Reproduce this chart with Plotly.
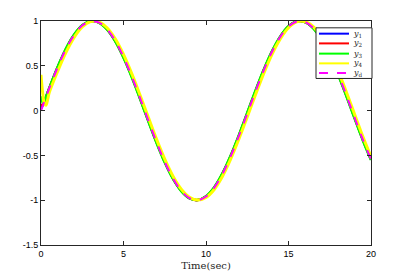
import plotly.graph_objects as go

t = [0, 0.1, 0.2, 0.3, 0.4, 0.5, 1.0, 1.5, 2.0, 2.5, 3.0, 3.5, 4.0, 4.5, 5.0, 5.5, 6.0,
     6.5, 7.0, 7.5, 8.0, 8.5, 9.0, 9.5, 10.0, 10.5, 11.0, 11.5, 12.0, 12.5, 13.0,
     13.5, 14.0, 14.5, 15.0, 15.5, 16.0, 16.5, 17.0, 17.5, 18.0, 18.5, 19.0, 19.5, 20.0]

yd = [0.0, 0.05, 0.10, 0.15, 0.199, 0.247, 0.479, 0.682, 0.841, 0.949, 0.997, 0.984,
      0.909, 0.778, 0.598, 0.382, 0.141, -0.108, -0.351, -0.572, -0.757, -0.895,
      -0.978, -0.999, -0.959, -0.860, -0.706, -0.508, -0.279, -0.033, 0.215, 0.450,
      0.657, 0.823, 0.938, 0.995, 0.989, 0.923, 0.798, 0.624, 0.412, 0.174, -0.075,
      -0.321, -0.544]

y1 = [0.02, 0.06, 0.10, 0.15, 0.199, 0.247, 0.479, 0.682, 0.841, 0.949, 0.997, 0.984,
      0.909, 0.778, 0.598, 0.382, 0.141, -0.108, -0.351, -0.572, -0.757, -0.895,
      -0.978, -0.999, -0.959, -0.860, -0.706, -0.508, -0.279, -0.033, 0.215, 0.450,
      0.657, 0.823, 0.938, 0.995, 0.989, 0.923, 0.798, 0.624, 0.412, 0.174, -0.075,
      -0.321, -0.544]

y2 = [0.05, 0.07, 0.10, 0.15, 0.199, 0.247, 0.479, 0.682, 0.841, 0.949, 0.997, 0.984,
      0.909, 0.778, 0.598, 0.382, 0.141, -0.108, -0.351, -0.572, -0.757, -0.895,
      -0.978, -0.999, -0.959, -0.860, -0.706, -0.508, -0.279, -0.033, 0.215, 0.450,
      0.657, 0.823, 0.938, 0.995, 0.989, 0.923, 0.798, 0.624, 0.412, 0.174, -0.075,
      -0.321, -0.544]

y3 = [0.16, 0.09, 0.10, 0.15, 0.20, 0.25, 0.485, 0.688, 0.846, 0.952, 0.998, 0.982,
      0.905, 0.772, 0.590, 0.373, 0.131, -0.118, -0.360, -0.580, -0.763, -0.899,
      -0.980, -0.998, -0.955, -0.854, -0.698, -0.499, -0.269, -0.023, 0.225, 0.459,
      0.664, 0.828, 0.941, 0.996, 0.987, 0.918, 0.791, 0.615, 0.402, 0.164, -0.085,
      -0.330, -0.552]

y4 = [0.40, 0.20, 0.08, 0.06, 0.12, 0.20, 0.435, 0.645, 0.815, 0.934, 0.993, 0.991,
      0.925, 0.802, 0.627, 0.413, 0.175, -0.073, -0.318, -0.542, -0.732, -0.876,
      -0.967, -0.999, -0.969, -0.880, -0.733, -0.540, -0.314, -0.070, 0.178, 0.416,
      0.628, 0.800, 0.925, 0.990, 0.994, 0.938, 0.821, 0.653, 0.446, 0.211, -0.038,
      -0.286, -0.514]

series_names = ["<i>y</i><sub>1</sub>", "<i>y</i><sub>2</sub>", "<i>y</i><sub>3</sub>",
                "<i>y</i><sub>4</sub>", "<i>y</i><sub>d</sub>"]
series_values = [y1, y2, y3, y4, yd]
colors = ["#0000ff", "#ff0000", "#00ff00", "#ffff00", "#ff00ff"]
widths = [2.5, 2.5, 2.5, 3, 2]
dashes = ["solid", "solid", "solid", "solid", "dash"]

fig = go.Figure()
for name, ys, color, w, dash in zip(series_names, series_values, colors, widths, dashes):
    fig.add_trace(go.Scatter(x=t, y=ys, mode="lines", name=name, showlegend=False,
                             line=dict(color=color, width=w, dash=dash, shape="spline")))

axis_common = dict(showline=True, linecolor="#262626", linewidth=1, mirror="ticks",
                   ticks="inside", ticklen=4, tickcolor="#262626", showgrid=False,
                   zeroline=False,
                   tickfont=dict(family="Liberation Sans, Arial", size=9, color="#000000"))

fig.update_xaxes(range=[0, 20], tickvals=[0, 5, 10, 15, 20],
                 title=dict(text="Time(sec)", standoff=4,
                            font=dict(family="DejaVu Serif, serif", size=10, color="#262626")),
                 **axis_common)
fig.update_yaxes(range=[-1.5, 1], tickvals=[-1.5, -1, -0.5, 0, 0.5, 1],
                 ticktext=["-1.5", "-1", "-0.5", "0", "0.5", "1"], **axis_common)

# Manual compact legend (paper coordinates derived from plot-area pixel geometry)
PX0, PX1, PY0, PY1 = 41, 371, 16, 246
def px(x):
    return (x - PX0) / (PX1 - PX0)
def py(y):
    return (PY1 - y) / (PY1 - PY0)

shapes = [dict(type="rect", xref="paper", yref="paper",
               x0=px(316), x1=px(372), y0=py(75), y1=py(23),
               line=dict(color="#262626", width=1), fillcolor="white", layer="above")]
annotations = []
row_y = [29, 39, 49.5, 59.5, 69.5]
for i, (name, color, dash) in enumerate(zip(series_names, colors, dashes)):
    shapes.append(dict(type="line", xref="paper", yref="paper",
                       x0=px(319), x1=px(349), y0=py(row_y[i]), y1=py(row_y[i]),
                       line=dict(color=color, width=2, dash=dash), layer="above"))
    annotations.append(dict(xref="paper", yref="paper", x=px(351), y=py(row_y[i]),
                            text=name, showarrow=False, xanchor="left", yanchor="middle",
                            font=dict(family="DejaVu Serif, serif", size=8, color="#262626")))

fig.update_layout(
    width=398, height=270,
    margin=dict(l=33, r=35, t=8, b=32),
    plot_bgcolor="white", paper_bgcolor="white",
    showlegend=False,
    shapes=shapes, annotations=annotations,
)

fig.write_html("out.html")
